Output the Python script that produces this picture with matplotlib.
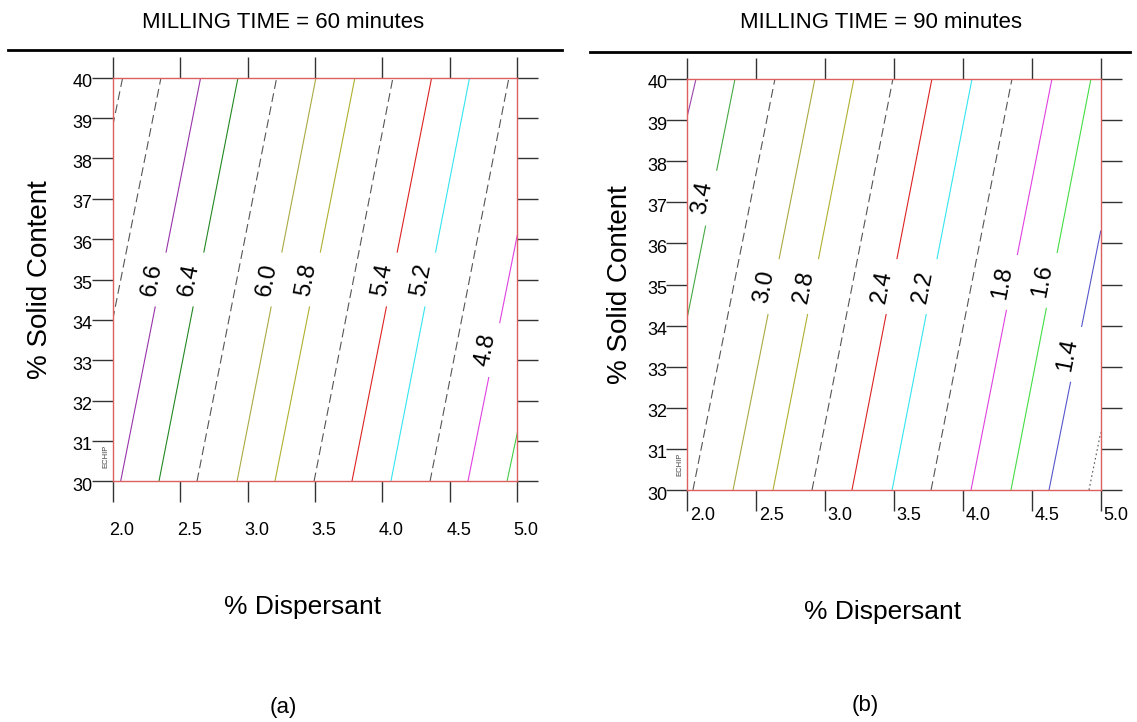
import matplotlib
matplotlib.use("Agg")
import matplotlib.pyplot as plt
from matplotlib.lines import Line2D
from matplotlib.transforms import offset_copy, blended_transform_factory

plt.rcParams["font.family"] = ["Liberation Sans", "DejaVu Sans"]

# ------------------------------------------------------------------------------
# Contour lines: each level runs from a low end to a high end
# (x = % Dispersant, y = % Solid Content).
# ------------------------------------------------------------------------------

levels_60 = [7.0, 6.8, 6.6, 6.4, 6.2, 6.0, 5.8, 5.6, 5.4, 5.2, 5.0, 4.8, 4.6]
x_low_60 = [2.0, 2.0, 2.059, 2.343, 2.625, 2.922, 3.203, 3.493, 3.774, 4.063, 4.353, 4.634, 4.924]
y_low_60 = [38.8, 34.0, 30, 30, 30, 30, 30, 30, 30, 30, 30, 30, 30]
x_high_60 = [2.074, 2.358, 2.652, 2.929, 3.216, 3.507, 3.796, 4.078, 4.365, 4.646, 4.938, 5.0, 5.0]
y_high_60 = [40, 40, 40, 40, 40, 40, 40, 40, 40, 40, 40, 36.1, 31.2]

levels_90 = [3.6, 3.4, 3.2, 3.0, 2.8, 2.6, 2.4, 2.2, 2.0, 1.8, 1.6, 1.4, 1.2]
x_low_90 = [2.0, 2.0, 2.041, 2.332, 2.622, 2.905, 3.195, 3.486, 3.769, 4.059, 4.349, 4.625, 4.915]
y_low_90 = [39.1, 34.2, 30, 30, 30, 30, 30, 30, 30, 30, 30, 30, 30]
x_high_90 = [2.063, 2.346, 2.636, 2.926, 3.209, 3.492, 3.775, 4.066, 4.356, 4.646, 4.929, 5.0, 5.0]
y_high_90 = [40, 40, 40, 40, 40, 40, 40, 40, 40, 40, 40, 36.3, 31.4]

x_ticks = [2.0, 2.5, 3.0, 3.5, 4.0, 4.5, 5.0]
y_ticks = [30, 31, 32, 33, 34, 35, 36, 37, 38, 39, 40]

# Line styles per level (same order as the levels above).
DASH = "#555555"
styles_60 = [
    (DASH, (0, (8, 4))), (DASH, (0, (8, 4))), ("#9933aa", "-"), ("#228822", "-"),
    (DASH, (0, (8, 4))), ("#aaaa44", "-"), ("#b0b030", "-"), (DASH, (0, (8, 4))),
    ("#dd2222", "-"), ("#33e5f0", "-"), (DASH, (0, (8, 4))), ("#e040e0", "-"),
    ("#44cc44", "-"),
]
styles_90 = [
    ("#9944aa", "-"), ("#44aa44", "-"), (DASH, (0, (8, 4))), ("#aaaa44", "-"),
    ("#b0b030", "-"), (DASH, (0, (8, 4))), ("#dd2222", "-"), ("#33e5f0", "-"),
    (DASH, (0, (8, 4))), ("#e040e0", "-"), ("#44dd44", "-"), ("#5555cc", "-"),
    (DASH, (0, (1.5, 2.5))),
]

# Where the inline labels sit (level -> y of label).
labels_60 = {6.6: 35.0, 6.4: 35.0, 6.0: 35.0, 5.8: 35.0, 5.4: 35.0, 5.2: 35.0, 4.8: 33.25}
labels_90 = {3.4: 37.1, 3.0: 34.95, 2.8: 34.95, 2.4: 34.95, 2.2: 34.95,
             1.8: 35.05, 1.6: 35.1, 1.4: 33.3}

W, H = 1137, 722
fig = plt.figure(figsize=(W / 100, H / 100), dpi=100)


def px_axes(x0, y0, x1, y1):
    return fig.add_axes([x0 / W, 1 - y1 / H, (x1 - x0) / W, (y1 - y0) / H])


def draw_panel(ax, levels, xl, yl, xh, yh, styles, labels, xlab_dx, xlab_dy):
    gap = 0.68
    lab_tr = offset_copy(ax.transData, fig, x=-9, y=0, units="dots")
    for i, lev in enumerate(levels):
        color, ls = styles[i]
        kw = dict(color=color, linestyle=ls, linewidth=0.8)
        if lev in labels:
            y_lab = labels[lev]

            def x_at(y):
                return xl[i] + (xh[i] - xl[i]) * (y - yl[i]) / (yh[i] - yl[i])

            ax.plot([xl[i], x_at(y_lab - gap)], [yl[i], y_lab - gap], **kw)
            ax.plot([x_at(y_lab + gap), xh[i]], [y_lab + gap, yh[i]], **kw)
            ax.text(x_at(y_lab), y_lab, f"{lev:.1f}", transform=lab_tr,
                    rotation=79, fontsize=17, ha="center", va="center")
        else:
            ax.plot([xl[i], xh[i]], [yl[i], yh[i]], **kw)

    ax.set_xlim(2.0, 5.0)
    ax.set_ylim(30, 40)
    ax.set_xticks(x_ticks)
    ax.set_yticks(y_ticks)
    ax.tick_params(direction="out", length=15, width=1, color="#333333",
                   top=True, right=True, labelbottom=False, labelleft=False)
    for sp in ax.spines.values():
        sp.set_color("#dd6060")
        sp.set_linewidth(1)

    # Tick labels drawn by hand to match the offsets of the original.
    xt = offset_copy(blended_transform_factory(ax.transData, ax.transAxes),
                     fig, x=xlab_dx, y=-xlab_dy, units="dots")
    for v in x_ticks:
        ax.text(v, 0, f"{v:.1f}", transform=xt, fontsize=13,
                ha="center", va="center")
    yt = offset_copy(blended_transform_factory(ax.transAxes, ax.transData),
                     fig, x=-20, y=-5, units="dots")
    for v in y_ticks:
        ax.text(0, v, f"{v}", transform=yt, fontsize=13,
                ha="right", va="center")

    et = offset_copy(blended_transform_factory(ax.transAxes, ax.transData),
                     fig, x=-7, y=0, units="dots")
    ax.text(0, 30.62, "ECHIP", transform=et, rotation=90, fontsize=5.5,
            color="#444444", ha="center", va="center")


ax1 = px_axes(112.7, 77.7, 517.3, 481.3)
draw_panel(ax1, levels_60, x_low_60, y_low_60, x_high_60, y_high_60,
           styles_60, labels_60, 9, 49)

ax2 = px_axes(687.3, 79, 1100.7, 490)
draw_panel(ax2, levels_90, x_low_90, y_low_90, x_high_90, y_high_90,
           styles_90, labels_90, 15, 26)


def ftext(x, y, s, **kw):
    fig.text(x / W, 1 - y / H, s, ha="center", va="center", **kw)


def fline(x0, x1, y):
    fig.add_artist(Line2D([x0 / W, x1 / W], [1 - y / H, 1 - y / H],
                          transform=fig.transFigure, color="black", linewidth=2))


ftext(283, 22, "MILLING TIME = 60 minutes", fontsize=16)
ftext(881, 22, "MILLING TIME = 90 minutes", fontsize=16)
fline(8, 562, 50)
fline(590, 1130, 52)

ftext(40, 280, "% Solid Content", fontsize=20, rotation=90)
ftext(620, 285, "% Solid Content", fontsize=20, rotation=90)
ftext(303, 607, "% Dispersant", fontsize=19)
ftext(883, 612, "% Dispersant", fontsize=19)
ftext(283, 708, "(a)", fontsize=16)
ftext(865, 706, "(b)", fontsize=16)

fig.savefig("out.png", dpi=100)
